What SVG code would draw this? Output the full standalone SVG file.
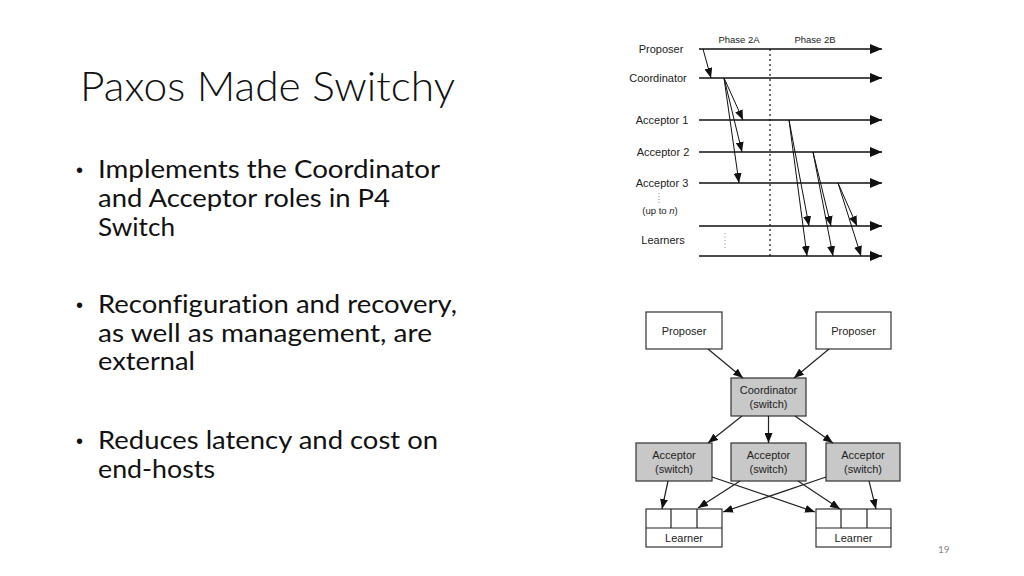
<svg xmlns="http://www.w3.org/2000/svg" width="1024" height="576" viewBox="0 0 1024 576">
<style>
.title{font-family:Lato,"Open Sans",sans-serif;font-weight:300;font-size:42px;fill:#111}
.bul{font-family:Lato,"Open Sans",sans-serif;font-size:25px;fill:#111;font-variant-ligatures:none}
.dot{font-family:"Liberation Sans",sans-serif;font-size:20px;fill:#111}
.lbl{font-family:"Liberation Sans",Arial,sans-serif;font-size:11px;fill:#222}
.sm{font-family:"Liberation Sans",Arial,sans-serif;font-size:9.5px;fill:#222}
.tl{stroke:#111;stroke-width:1.5;fill:none}
.msg{stroke:#111;stroke-width:1;fill:none}
.box{fill:#fff;stroke:#333;stroke-width:1.2}
.gbox{fill:#c8c8c8;stroke:#333;stroke-width:1.2}
.con{stroke:#222;stroke-width:1.2;fill:none}
</style>
<defs>
<marker id="big" viewBox="0 0 12 10" refX="12" refY="5" markerWidth="12" markerHeight="10" markerUnits="userSpaceOnUse" orient="auto"><path d="M0,0 L12,5 L0,10 Z" fill="#111"/></marker>
<marker id="sm" viewBox="0 0 10 8" refX="10" refY="4" markerWidth="10" markerHeight="8" markerUnits="userSpaceOnUse" orient="auto"><path d="M0,0 L10,4 L0,8 Z" fill="#111"/></marker>
</defs>
<rect width="1024" height="576" fill="#fff"/>
<g id="text">
<text class="title" x="80" y="101" textLength="375" lengthAdjust="spacingAndGlyphs">Paxos Made Switchy</text>
<g class="dot">
<text x="76" y="177">•</text>
<text x="76" y="312">•</text>
<text x="76" y="448">•</text>
</g>
<g class="bul">
<text x="98" y="178" textLength="342" lengthAdjust="spacingAndGlyphs">Implements the Coordinator</text>
<text x="98" y="207" textLength="292" lengthAdjust="spacingAndGlyphs">and Acceptor roles in P4</text>
<text x="98" y="236" textLength="77" lengthAdjust="spacingAndGlyphs">Switch</text>
<text x="98" y="313" textLength="359" lengthAdjust="spacingAndGlyphs">Reconfiguration and recovery,</text>
<text x="98" y="342" textLength="334" lengthAdjust="spacingAndGlyphs">as well as management, are</text>
<text x="98" y="370" textLength="97" lengthAdjust="spacingAndGlyphs">external</text>
<text x="98" y="449" textLength="340" lengthAdjust="spacingAndGlyphs">Reduces latency and cost on</text>
<text x="98" y="478" textLength="117" lengthAdjust="spacingAndGlyphs">end-hosts</text>
</g>
<text x="938" y="553" font-family="Lato,'Open Sans',sans-serif" font-size="10" fill="#888">19</text>
</g>
<g id="timeline">
<text class="sm" x="739" y="43" text-anchor="middle">Phase 2A</text>
<text class="sm" x="815" y="43" text-anchor="middle">Phase 2B</text>
<g text-anchor="middle">
<text class="lbl" x="661" y="53">Proposer</text>
<text class="lbl" x="658" y="82">Coordinator</text>
<text class="lbl" x="662" y="124">Acceptor 1</text>
<text class="lbl" x="663" y="156">Acceptor 2</text>
<text class="lbl" x="662" y="187">Acceptor 3</text>
<text class="sm" x="660" y="214">(up to <tspan font-style="italic">n</tspan>)</text>
<text class="lbl" x="663" y="244">Learners</text>
</g>
<line x1="659" y1="193" x2="659" y2="204" stroke="#777" stroke-width="0.8" stroke-dasharray="1,2"/>
<line x1="725" y1="233" x2="725" y2="249" stroke="#777" stroke-width="0.8" stroke-dasharray="1,2.5"/>
<line x1="770" y1="49" x2="770" y2="258" stroke="#222" stroke-width="1.3" stroke-dasharray="2,3"/>
<g class="tl">
<line x1="699" y1="49" x2="882" y2="49" marker-end="url(#big)"/>
<line x1="699" y1="78" x2="882" y2="78" marker-end="url(#big)"/>
<line x1="699" y1="120" x2="882" y2="120" marker-end="url(#big)"/>
<line x1="699" y1="152" x2="882" y2="152" marker-end="url(#big)"/>
<line x1="699" y1="183" x2="882" y2="183" marker-end="url(#big)"/>
<line x1="699" y1="226" x2="882" y2="226" marker-end="url(#big)"/>
<line x1="699" y1="256" x2="882" y2="256" marker-end="url(#big)"/>
</g>
<g class="msg">
<line x1="703" y1="49" x2="711" y2="78" marker-end="url(#sm)"/>
<line x1="724" y1="78" x2="743" y2="120" marker-end="url(#sm)"/>
<line x1="724" y1="78" x2="742" y2="152" marker-end="url(#sm)"/>
<line x1="724" y1="78" x2="739" y2="183" marker-end="url(#sm)"/>
<line x1="789" y1="120" x2="809" y2="226" marker-end="url(#sm)"/>
<line x1="789" y1="120" x2="807" y2="256" marker-end="url(#sm)"/>
<line x1="813" y1="152" x2="831" y2="226" marker-end="url(#sm)"/>
<line x1="813" y1="152" x2="833" y2="256" marker-end="url(#sm)"/>
<line x1="838" y1="183" x2="857" y2="226" marker-end="url(#sm)"/>
<line x1="838" y1="183" x2="861" y2="256" marker-end="url(#sm)"/>
</g>
</g>
<g id="proposer1"><rect class="box" x="646" y="312" width="76" height="37"/><text class="lbl" x="684" y="335" text-anchor="middle">Proposer</text></g>
<g id="proposer2"><rect class="box" x="816" y="312" width="75" height="37"/><text class="lbl" x="853.5" y="335" text-anchor="middle">Proposer</text></g>
<g id="coordinator"><rect class="gbox" x="731" y="378" width="75" height="38"/><text class="lbl" x="768.5" y="394" text-anchor="middle">Coordinator</text><text class="lbl" x="768.5" y="408" text-anchor="middle">(switch)</text></g>
<g id="acceptor1"><rect class="gbox" x="636" y="443" width="76" height="38"/><text class="lbl" x="674" y="459" text-anchor="middle">Acceptor</text><text class="lbl" x="674" y="473" text-anchor="middle">(switch)</text></g>
<g id="acceptor2"><rect class="gbox" x="731" y="443" width="75" height="38"/><text class="lbl" x="768.5" y="459" text-anchor="middle">Acceptor</text><text class="lbl" x="768.5" y="473" text-anchor="middle">(switch)</text></g>
<g id="acceptor3"><rect class="gbox" x="826" y="443" width="74" height="38"/><text class="lbl" x="863" y="459" text-anchor="middle">Acceptor</text><text class="lbl" x="863" y="473" text-anchor="middle">(switch)</text></g>
<g id="learner1"><rect class="box" x="646" y="509" width="76" height="38"/><line class="con" x1="646" y1="528" x2="722" y2="528"/><line class="con" x1="671" y1="509" x2="671" y2="528"/><line class="con" x1="697" y1="509" x2="697" y2="528"/><text class="lbl" x="684" y="542" text-anchor="middle">Learner</text></g>
<g id="learner2"><rect class="box" x="816" y="509" width="75" height="38"/><line class="con" x1="816" y1="528" x2="891" y2="528"/><line class="con" x1="841" y1="509" x2="841" y2="528"/><line class="con" x1="867" y1="509" x2="867" y2="528"/><text class="lbl" x="853.5" y="542" text-anchor="middle">Learner</text></g>
<g id="connectors" class="con">
<line x1="708" y1="349" x2="743" y2="378" marker-end="url(#sm)"/>
<line x1="829" y1="349" x2="794" y2="378" marker-end="url(#sm)"/>
<line x1="742" y1="416" x2="708" y2="443" marker-end="url(#sm)"/>
<line x1="768.5" y1="416" x2="768.5" y2="443" marker-end="url(#sm)"/>
<line x1="795" y1="416" x2="833" y2="443" marker-end="url(#sm)"/>
<line x1="668" y1="481" x2="662" y2="509" marker-end="url(#sm)"/>
<line x1="712" y1="477" x2="815" y2="512" marker-end="url(#sm)"/>
<line x1="740" y1="481" x2="698" y2="508" marker-end="url(#sm)"/>
<line x1="798" y1="481" x2="840" y2="509" marker-end="url(#sm)"/>
<line x1="826" y1="477" x2="723" y2="512" marker-end="url(#sm)"/>
<line x1="869" y1="481" x2="876" y2="509" marker-end="url(#sm)"/>
</g>
</svg>
